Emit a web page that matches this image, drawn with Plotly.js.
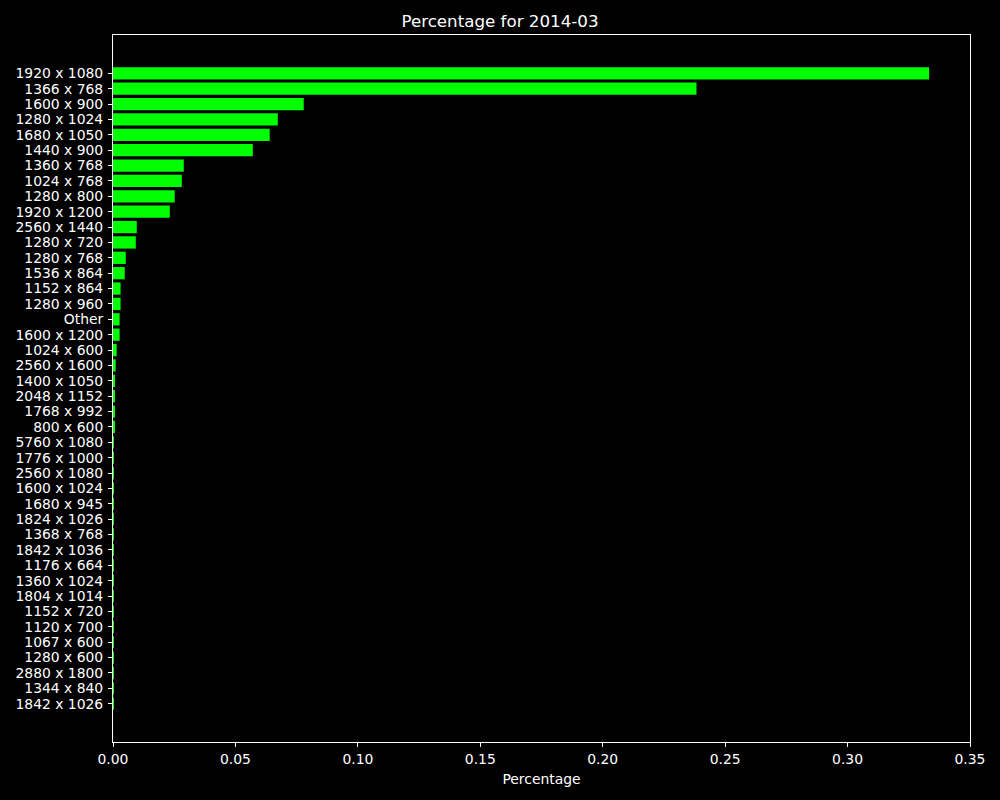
<!DOCTYPE html>
<html>
<head>
<meta charset="utf-8">
<script src="https://cdn.plot.ly/plotly-3.0.1.min.js"></script>
<style>html,body{margin:0;padding:0;background:#000;}</style>
</head>
<body>
<div id="chart" style="width:1000px;height:800px;"></div>
<script>
const resolutions = ["1920 x 1080","1366 x 768","1600 x 900","1280 x 1024","1680 x 1050","1440 x 900","1360 x 768","1024 x 768","1280 x 800","1920 x 1200","2560 x 1440","1280 x 720","1280 x 768","1536 x 864","1152 x 864","1280 x 960","Other","1600 x 1200","1024 x 600","2560 x 1600","1400 x 1050","2048 x 1152","1768 x 992","800 x 600","5760 x 1080","1776 x 1000","2560 x 1080","1600 x 1024","1680 x 945","1824 x 1026","1368 x 768","1842 x 1036","1176 x 664","1360 x 1024","1804 x 1014","1152 x 720","1120 x 700","1067 x 600","1280 x 600","2880 x 1800","1344 x 840","1842 x 1026"];
const percentages = [0.3333,0.2383,0.0779,0.0673,0.0640,0.0571,0.0289,0.0281,0.0252,0.0232,0.0097,0.0093,0.0052,0.0048,0.0031,0.0031,0.0027,0.0027,0.0015,0.0011,0.0007,0.0007,0.0007,0.0007,0.00005,0.00004,0.00004,0.00003,0.00003,0.00003,0.00002,0.00002,0.00002,0.00002,0.00002,0.00001,0.00001,0.00001,0.00001,0.00001,0.00001,0.00001];
const xTicks = [0,0.05,0.10,0.15,0.20,0.25,0.30,0.35];

const n = resolutions.length;
const font = {family: "DejaVu Sans", color: "#ffffff", size: 13.9};
Plotly.newPlot("chart", [{
  type: "bar",
  orientation: "h",
  x: percentages,
  y: resolutions,
  marker: {color: "#00ff00", line: {width: 0}},
  hoverinfo: "x+y"
}], {
  width: 1000, height: 800,
  paper_bgcolor: "#000000",
  plot_bgcolor: "#000000",
  font: font,
  bargap: 0.2,
  showlegend: false,
  title: {text: "Percentage for 2014-03", font: {family: "DejaVu Sans", color: "#ffffff", size: 16.7}, x: 0.5, xanchor: "center", y: 0.973, yanchor: "middle"},
  margin: {l: 113, r: 30, t: 35, b: 58, pad: 0},
  xaxis: {
    range: [0, 0.35],
    tickvals: xTicks,
    ticktext: xTicks.map(v => v.toFixed(2)),
    ticks: "outside", ticklen: 4, tickwidth: 1, tickcolor: "#ffffff",
    showgrid: false, zeroline: false,
    showline: true, linecolor: "#ffffff", linewidth: 1, mirror: true,
    tickfont: font,
    title: {text: "Percentage", font: font, standoff: 8}
  },
  yaxis: {
    type: "category",
    categoryorder: "array", categoryarray: resolutions,
    range: [n - 1 + 2.49, -2.49],
    tickmode: "array",
    tickvals: resolutions,
    ticktext: resolutions,
    ticks: "outside", ticklen: 4, tickwidth: 1, tickcolor: "#ffffff",
    showgrid: false, zeroline: false,
    showline: true, linecolor: "#ffffff", linewidth: 1, mirror: true,
    tickfont: font,
    ticklabelstandoff: 2
  }
}, {displayModeBar: false});
</script>
</body>
</html>
